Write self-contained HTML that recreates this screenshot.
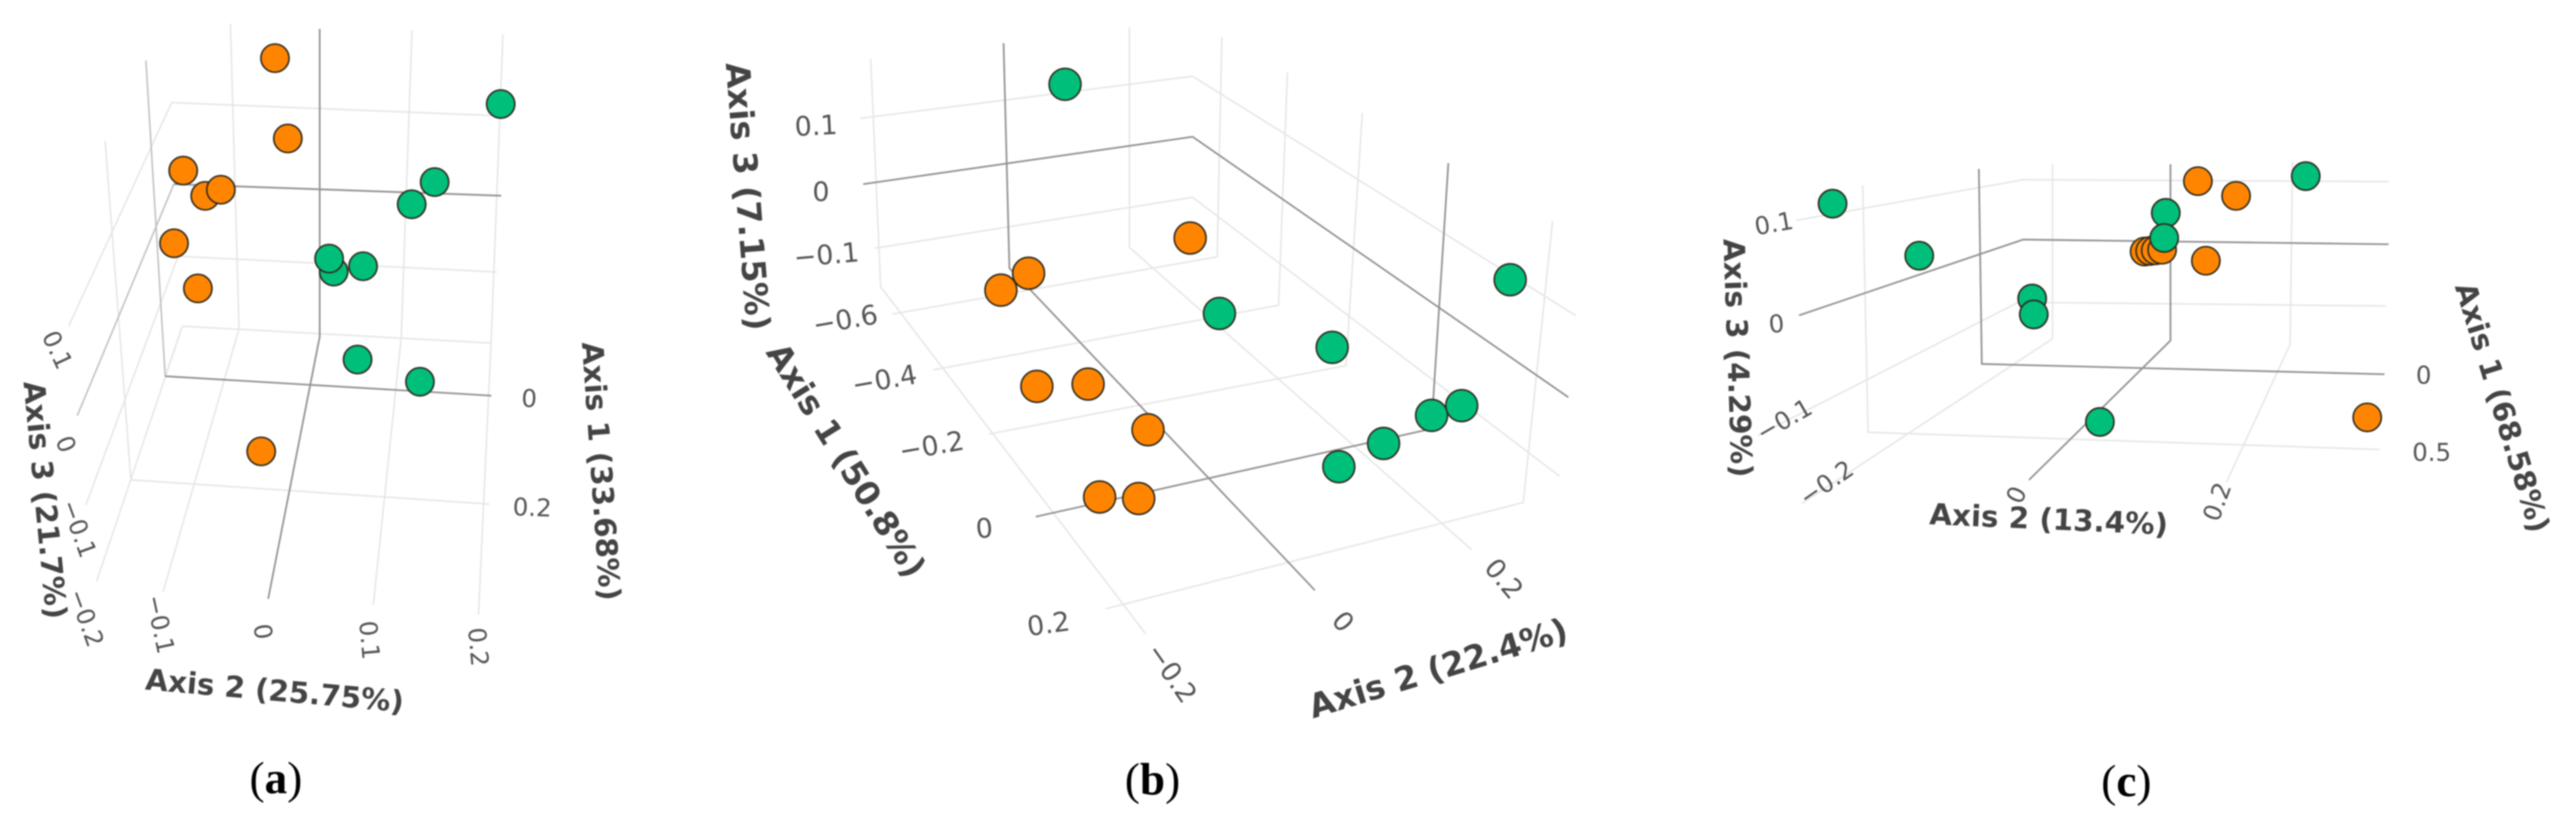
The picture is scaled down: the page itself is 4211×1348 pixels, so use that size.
<!DOCTYPE html>
<html lang="en">
<head>
<meta charset="utf-8">
<title>3D PCoA scatter plots</title>
<style>
html,body{margin:0;padding:0;background:#fff;}
svg{display:block;filter:blur(1px);}
.tick{font-family:"DejaVu Sans","Liberation Sans",sans-serif;font-size:40px;fill:#555;text-anchor:middle;dominant-baseline:central;}
.title{font-family:"DejaVu Sans","Liberation Sans",sans-serif;font-weight:bold;font-size:48px;fill:#444;text-anchor:middle;dominant-baseline:central;}
#panel-b .tick{font-size:44px;}
#panel-b .title{font-size:54px;}
.cap{font-family:"Liberation Serif",serif;font-size:74px;fill:#000;text-anchor:middle;dominant-baseline:central;}
.lt{fill:none;stroke:#e6e6e6;stroke-width:2.5;vector-effect:non-scaling-stroke;}
.md{fill:none;stroke:#c0c0c0;stroke-width:2.5;vector-effect:non-scaling-stroke;}
.dk{fill:none;stroke:#929292;stroke-width:2.8;vector-effect:non-scaling-stroke;}
</style>
</head>
<body>
<svg id="fig" xmlns="http://www.w3.org/2000/svg" width="4211" height="1348" viewBox="0 0 4211 1348">
<g id="panel-a">
  <g transform="scale(.7015 .8597)">
    <path class="lt" d="M537 45L557 625L380 1125"/>
    <path class="lt" d="M960 58L935 640L870 1150"/>
    <path class="lt" d="M1172 65L1145 640L1115 1168"/>
    <path class="lt" d="M160 620L400 195L1160 220"/>
    <path class="lt" d="M200 960L415 487L1158 517"/>
    <path class="lt" d="M225 1105L425 620L1145 652"/>
    <path class="lt" d="M245 268L305 912L1140 958"/>
    <path class="lt" d="M385 715L425 620"/>
    <path class="md" d="M340 115L385 715"/>
    <path class="dk" d="M385 715L1145 752"/>
    <path class="md" d="M180 790L405 350"/>
    <path class="dk" d="M405 350L1168 372"/>
    <path class="dk" d="M745 55L745 640L625 1138"/>
  </g>
  <text class="tick" transform="translate(93 572) rotate(65)">0.1</text>
  <text class="tick" transform="translate(107 726) rotate(68)">0</text>
  <text class="tick" transform="translate(128 864) rotate(70)">−0.1</text>
  <text class="tick" transform="translate(140 1010) rotate(70)">−0.2</text>
  <text class="tick" transform="translate(261 1020) rotate(78)">−0.1</text>
  <text class="tick" transform="translate(429 1032) rotate(82)">0</text>
  <text class="tick" transform="translate(603 1046) rotate(85)">0.1</text>
  <text class="tick" transform="translate(781 1057) rotate(85)">0.2</text>
  <text class="tick" transform="translate(865 652) rotate(2)">0</text>
  <text class="tick" transform="translate(870 830) rotate(2)">0.2</text>
  <text class="title" transform="translate(73 817) rotate(84.5)">Axis 3 (21.7%)</text>
  <text class="title" transform="translate(449 1129) rotate(5)">Axis 2 (25.75%)</text>
  <text class="title" transform="translate(982 770) rotate(86)">Axis 1 (33.68%)</text>
  <text class="cap" x="451" y="1272">(<tspan font-weight="bold">a</tspan>)</text>
</g>
<g id="panel-b">
  <g transform="translate(1100 0) scale(.9567 .8597)">
    <path class="lt" d="M338 112L355 545L808 1205"/>
    <path class="lt" d="M320 225L888 145L1543 600"/>
    <path class="lt" d="M345 472L888 375L1515 905"/>
    <path class="lt" d="M780 52L780 470L1365 1045"/>
    <path class="lt" d="M938 70L930 488L375 597"/>
    <path class="lt" d="M1050 138L1035 580L445 703"/>
    <path class="lt" d="M1178 215L1150 695L540 825"/>
    <path class="lt" d="M1503 420L1453 955L740 1157"/>
    <path class="dk" d="M325 350L888 260L1530 755"/>
    <path class="dk" d="M565 82L575 510L610 550L1097 1122"/>
    <path class="dk" d="M620 982L1296 815L1325 310"/>
  </g>
  <text class="tick" transform="translate(1334 206) rotate(-3)">0.1</text>
  <text class="tick" transform="translate(1342 314)">0</text>
  <text class="tick" transform="translate(1351 417) rotate(-5)">−0.1</text>
  <text class="tick" transform="translate(1382 523) rotate(-10)">−0.6</text>
  <text class="tick" transform="translate(1446 621) rotate(-10)">−0.4</text>
  <text class="tick" transform="translate(1523 729) rotate(-10)">−0.2</text>
  <text class="tick" transform="translate(1609 864) rotate(-5)">0</text>
  <text class="tick" transform="translate(1714 1020) rotate(-8)">0.2</text>
  <text class="tick" transform="translate(1915 1100) rotate(55)">−0.2</text>
  <text class="tick" transform="translate(2195 1016) rotate(50)">0</text>
  <text class="tick" transform="translate(2458 946) rotate(50)">0.2</text>
  <text class="title" transform="translate(1222 321) rotate(85.5)">Axis 3 (7.15%)</text>
  <text class="title" transform="translate(1383 752) rotate(58)">Axis 1 (50.8%)</text>
  <text class="title" transform="translate(2351 1092) rotate(-17)">Axis 2 (22.4%)</text>
  <text class="cap" x="1884" y="1274">(<tspan font-weight="bold">b</tspan>)</text>
</g>
<g id="panel-c">
  <g transform="translate(2700 150) scale(.9637 .7641)">
    <path class="lt" d="M245 275L630 188L1250 192"/>
    <path class="lt" d="M180 735L622 450L1245 458"/>
    <path class="lt" d="M358 200L367 728L1235 765"/>
    <path class="lt" d="M680 155L680 528L255 880"/>
    <path class="lt" d="M1087 150L1083 540L975 835"/>
    <path class="dk" d="M555 165L560 582L1243 604"/>
    <path class="dk" d="M250 478L630 316L1250 326"/>
    <path class="dk" d="M880 155L880 532L640 830"/>
  </g>
  <text class="tick" transform="translate(2900 366) rotate(-10)">0.1</text>
  <text class="tick" transform="translate(2904 530) rotate(-5)">0</text>
  <text class="tick" transform="translate(2917 687) rotate(-30)">−0.1</text>
  <text class="tick" transform="translate(2986 790) rotate(-35)">−0.2</text>
  <text class="tick" transform="translate(3297 809) rotate(-65)">0</text>
  <text class="tick" transform="translate(3625 820) rotate(-70)">0.2</text>
  <text class="tick" transform="translate(3962 614)">0</text>
  <text class="tick" transform="translate(3975 740)">0.5</text>
  <text class="title" transform="translate(2840 585) rotate(88)">Axis 3 (4.29%)</text>
  <text class="title" transform="translate(3349 849) rotate(2.5)">Axis 2 (13.4%)</text>
  <text class="title" transform="translate(4090 666) rotate(73)">Axis 1 (68.58%)</text>
  <text class="cap" x="3476" y="1277">(<tspan font-weight="bold">c</tspan>)</text>
</g>
</svg>
<script>
// Panel (a)
const aOrangeAxis1 = [-0.1, -0.05, 0, 0, 0, 0.05, 0.1, 0.3];
const aOrangeAxis2 = [-0.067, -0.043, -0.147, -0.123, -0.106, -0.147, -0.111, -0.002];
const aOrangeAxis3 = [0.108, 0.035, 0.025, -0.008, 0, -0.038, -0.065, -0.150];
const aGreenAxis1 = [-0.1, -0.05, -0.05, 0.05, 0.05, 0.05, 0.2, 0.2];
const aGreenAxis2 = [0.179, 0.117, 0.092, 0.027, 0.022, 0.059, 0.083, 0.151];
const aGreenAxis3 = [0.048, -0.022, -0.051, -0.075, -0.058, -0.068, -0.094, -0.123];
// Panel (b)
const bOrangeAxis1 = [-0.3, -0.4, -0.4, -0.2, -0.2, -0.1, 0, 0];
const bOrangeAxis2 = [0.138, -0.026, -0.060, -0.085, -0.022, 0.017, -0.077, -0.029];
const bOrangeAxis3 = [-0.032, -0.095, -0.110, -0.126, -0.143, -0.164, -0.175, -0.193];
const bGreenAxis1 = [-0.6, 0.1, -0.3, -0.2, 0, 0, 0, 0];
const bGreenAxis2 = [0.088, 0.393, 0.174, 0.278, 0.368, 0.331, 0.272, 0.217];
const bGreenAxis3 = [0.035, 0.069, -0.160, -0.184, -0.179, -0.182, -0.206, -0.224];
// Panel (c)
const cOrangeAxis1 = [0.5, 0, 0, 0, 0, 0, 0, 0];
const cOrangeAxis2 = [0.389, -0.034, -0.027, -0.020, -0.012, 0.033, 0.081, 0.043];
const cOrangeAxis3 = [-0.171, -0.011, -0.010, -0.009, -0.008, 0.104, 0.080, -0.026];
const cGreenAxis1 = [-0.1, -0.1, -0.1, -0.1, -0.1, -0.1, -0.1, 0.2];
const cGreenAxis2 = [-0.455, -0.346, 0.140, -0.036, -0.038, -0.204, -0.202, -0.033];
const cGreenAxis3 = [0.045, -0.040, 0.090, 0.030, -0.011, -0.110, -0.136, -0.245];

const ORANGE = '#ff8500';
const GREEN = '#00bf7a';

function projectA(a1, a2, a3) { return [520 - 300 * a1 + 1500 * a2, 310 + 800 * a1 - 1250 * a3]; }
function projectB(a1, a2, a3) { return [1900 + 460 * a1 + 1330 * a2, 600 + 658 * a1 - 345 * a2 - 1060 * a3]; }
function projectC(a1, a2, a3) { return [3550 - 372 * a1 + 1300 * a2, 400 + 222 * a1 - 1000 * a3]; }

function drawSeries(panelId, project, radius, color, axis1, axis2, axis3) {
  const panel = document.getElementById(panelId);
  axis1.forEach(function (v, i) {
    const p = project(v, axis2[i], axis3[i]);
    const el = document.createElementNS('http://www.w3.org/2000/svg', 'circle');
    el.setAttribute('cx', p[0]);
    el.setAttribute('cy', p[1]);
    el.setAttribute('r', radius);
    el.setAttribute('fill', color);
    el.setAttribute('stroke', '#2e2a1e');
    el.setAttribute('stroke-width', '2.6');
    
    
    panel.appendChild(el);
  });
}

drawSeries('panel-a', projectA, 23, ORANGE, aOrangeAxis1, aOrangeAxis2, aOrangeAxis3);
drawSeries('panel-a', projectA, 23, GREEN, aGreenAxis1, aGreenAxis2, aGreenAxis3);
drawSeries('panel-b', projectB, 26, ORANGE, bOrangeAxis1, bOrangeAxis2, bOrangeAxis3);
drawSeries('panel-b', projectB, 26, GREEN, bGreenAxis1, bGreenAxis2, bGreenAxis3);
drawSeries('panel-c', projectC, 23, ORANGE, cOrangeAxis1, cOrangeAxis2, cOrangeAxis3);
drawSeries('panel-c', projectC, 23, GREEN, cGreenAxis1, cGreenAxis2, cGreenAxis3);
</script>
</body>
</html>
